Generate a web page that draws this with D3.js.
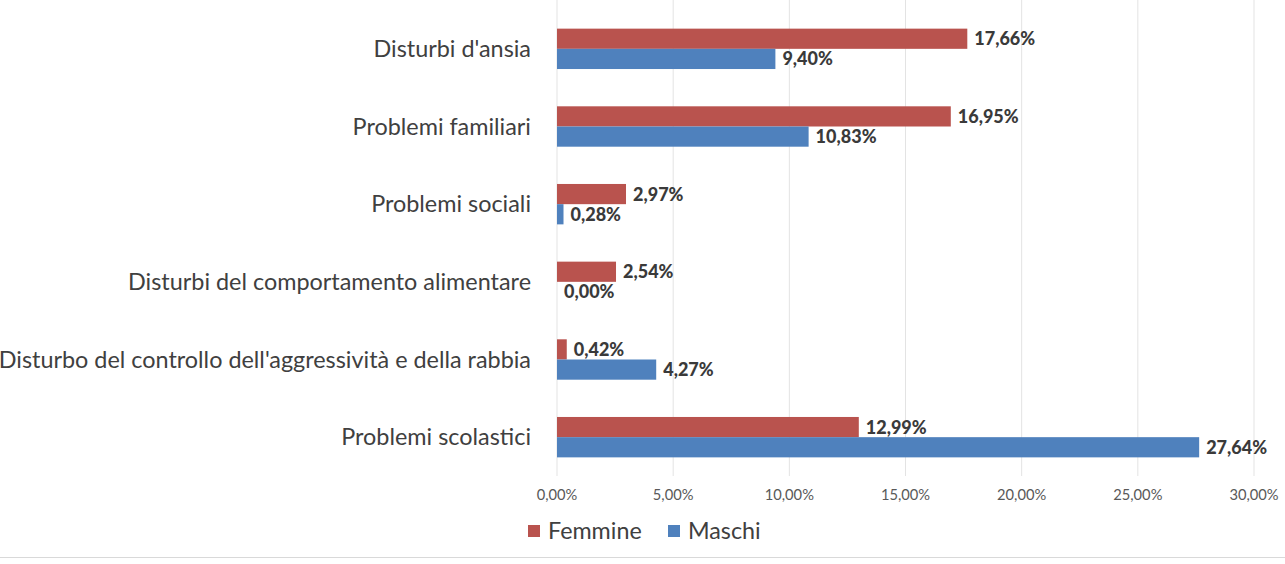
<!DOCTYPE html>
<html><head><meta charset="utf-8">
<script src="https://cdn.jsdelivr.net/npm/d3@7"></script>
<style>body{margin:0;background:#fff}svg{display:block}</style>
</head><body><svg id="c" width="1285" height="564"></svg>
<script>
const categories = ["Disturbi d'ansia","Problemi familiari","Problemi sociali","Disturbi del comportamento alimentare","Disturbo del controllo dell'aggressività e della rabbia","Problemi scolastici"];
const femmine = [17.66,16.95,2.97,2.54,0.42,12.99];
const maschi = [9.40,10.83,0.28,0.00,4.27,27.64];
const seriesNames = ["Femmine","Maschi"];
const ticks = [0,5,10,15,20,25,30];
const colors = ["#B9534E","#4F81BD"];

const svg = d3.select("#c");
const font = "Lato, 'Open Sans', sans-serif";
const x = d3.scaleLinear().domain([0,30]).range([557,1254]);
const y = d3.scaleBand().domain(categories).range([10,476]).paddingInner(0.48).paddingOuter(0.24);
const fmt = v => v.toFixed(2).replace(".", ",") + "%";

// grid
svg.append("g").selectAll("line").data(ticks).join("line")
  .attr("x1",d=>x(d)).attr("x2",d=>x(d)).attr("y1",0).attr("y2",476)
  .attr("stroke","#e3e3e3").attr("stroke-width",1);

// tick labels
svg.append("g").selectAll("text").data(ticks).join("text")
  .attr("x",d=>x(d)).attr("y",500).attr("text-anchor","middle")
  .attr("font-family",font).attr("font-size",14.7).attr("fill","#595959")
  .text(d=>d.toFixed(2).replace(".",",")+"%");

// category labels
svg.append("g").selectAll("text").data(categories).join("text")
  .attr("x",531).attr("y",d=>y(d)+y.bandwidth()/2).attr("dy","0.35em")
  .attr("text-anchor","end").attr("font-family",font).attr("font-size",23.4).attr("fill","#404040")
  .text(d=>d);

const sub = d3.scaleBand().domain(seriesNames).range([0,y.bandwidth()]);
const data = [femmine, maschi];
data.forEach((vals, si) => {
  const g = svg.append("g");
  g.selectAll("rect").data(vals).join("rect")
    .attr("x",x(0)).attr("y",(d,i)=>y(categories[i])+sub(seriesNames[si]))
    .attr("width",d=>x(d)-x(0)).attr("height",sub.bandwidth())
    .attr("fill",colors[si]);
  g.selectAll("text").data(vals).join("text")
    .attr("x",d=>x(d)+7).attr("y",(d,i)=>y(categories[i])+sub(seriesNames[si])+sub.bandwidth()/2)
    .attr("dy","0.36em").attr("font-family",font).attr("font-weight","900").attr("font-size",18)
    .attr("fill","#3a3a3a").text(d=>fmt(d));
});

// legend
const leg = svg.append("g");
const lx = [528, 668];
seriesNames.forEach((s,i)=>{
  leg.append("rect").attr("x",lx[i]).attr("y",525).attr("width",12).attr("height",12).attr("fill",colors[i]);
  leg.append("text").attr("x",lx[i]+20).attr("y",531).attr("dy","0.36em")
    .attr("font-family",font).attr("font-size",23.3).attr("fill","#404040").text(s);
});
// bottom line
svg.append("line").attr("x1",0).attr("x2",1285).attr("y1",557.5).attr("y2",557.5).attr("stroke","#d9d9d9");
</script></body></html>
